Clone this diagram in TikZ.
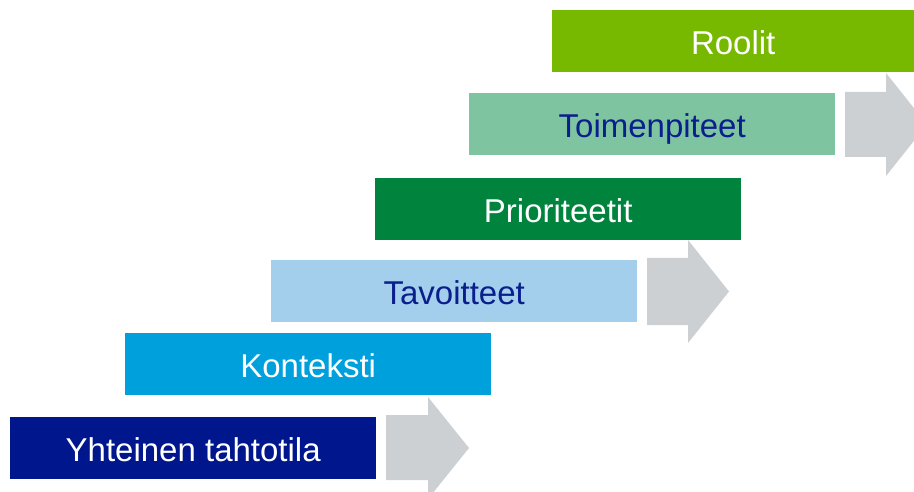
\documentclass[tikz,border=0pt]{standalone}
\usepackage{fontspec}
\setmainfont{Liberation Sans}
\definecolor{cDark}{RGB}{0,22,140}
\definecolor{cCyan}{RGB}{0,160,220}
\definecolor{cPale}{RGB}{163,207,236}
\definecolor{cGreen}{RGB}{0,132,61}
\definecolor{cMint}{RGB}{127,196,160}
\definecolor{cLime}{RGB}{118,185,0}
\definecolor{cGray}{RGB}{205,208,211}
\definecolor{cText}{RGB}{10,30,140}
\begin{document}
\begin{tikzpicture}[x=1pt,y=-1pt,
  stepbox/.style={draw=none,rectangle,anchor=north west,inner sep=0pt,
    minimum width=366pt,minimum height=62pt,text height=27pt,text depth=1pt,
    font=\fontsize{33}{37}\selectfont},
  grayarrow/.style={fill=cGray,draw=none}]
\useasboundingbox (0,0) rectangle (914,492);
\clip (0,0) rectangle (914,492);
\fill[white] (0,0) rectangle (914,492);
% arrows
\fill[grayarrow] (386,415) -- (428,415) -- (428,397) -- (469,448) -- (428,499) -- (428,480) -- (386,480) -- cycle;
\fill[grayarrow] (647,258) -- (688,258) -- (688,240) -- (729,291.5) -- (688,343) -- (688,325) -- (647,325) -- cycle;
\fill[grayarrow] (845,92) -- (886,92) -- (886,73) -- (927,124.5) -- (886,176) -- (886,157) -- (845,157) -- cycle;
% boxes
\node[stepbox,fill=cDark,text=white] (b1) at (10,417) {Yhteinen tahtotila};
\node[stepbox,fill=cCyan,text=white] (b2) at (125,333) {Konteksti};
\node[stepbox,fill=cPale,text=cText] (b3) at (271,260) {Tavoitteet};
\node[stepbox,fill=cGreen,text=white] (b4) at (375,178) {Prioriteetit};
\node[stepbox,fill=cMint,text=cText] (b5) at (469,93) {Toimenpiteet};
\node[stepbox,fill=cLime,text=white,minimum width=362pt] (b6) at (552,10) {Roolit};
\end{tikzpicture}
\end{document}
